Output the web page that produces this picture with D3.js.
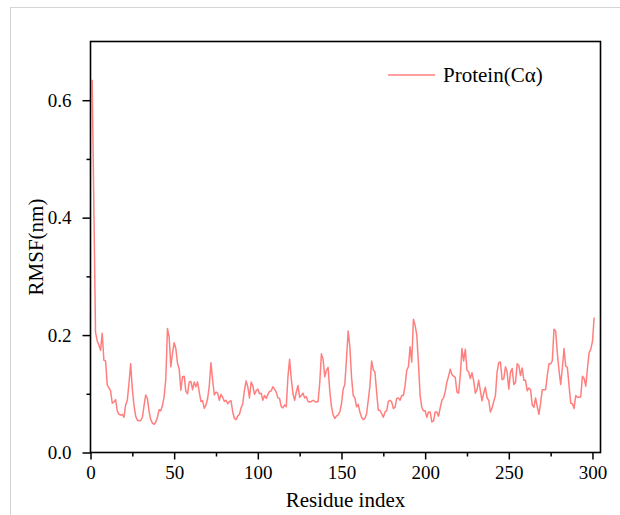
<!DOCTYPE html>
<html>
<head>
<meta charset="utf-8">
<script src="https://cdn.jsdelivr.net/npm/d3@7"></script>
<style>
  html, body { margin: 0; padding: 0; background: #fff; }
  svg { display: block; }
  text { font-family: "Liberation Serif", "Times New Roman", serif; fill: #000; }
</style>
</head>
<body>
<svg id="chart" width="620" height="515"></svg>
<script>
// RMSF values per residue (residue 1 .. 301)
const rmsf = [
  0.635, 0.420, 0.205, 0.190, 0.183, 0.174, 0.203, 0.157, 0.156, 0.115,
  0.110, 0.105, 0.084, 0.086, 0.090, 0.071, 0.065, 0.064, 0.065, 0.060,
  0.081, 0.089, 0.118, 0.151, 0.108, 0.080, 0.062, 0.055, 0.054, 0.054,
  0.060, 0.080, 0.098, 0.092, 0.070, 0.056, 0.050, 0.048, 0.052, 0.060,
  0.073, 0.071, 0.080, 0.095, 0.125, 0.211, 0.197, 0.146, 0.169, 0.187,
  0.177, 0.152, 0.142, 0.106, 0.129, 0.130, 0.104, 0.100, 0.120, 0.121,
  0.107, 0.120, 0.112, 0.120, 0.103, 0.087, 0.088, 0.075, 0.081, 0.092,
  0.114, 0.153, 0.123, 0.098, 0.103, 0.101, 0.089, 0.099, 0.094, 0.087,
  0.089, 0.083, 0.087, 0.088, 0.069, 0.058, 0.056, 0.062, 0.065, 0.076,
  0.083, 0.106, 0.122, 0.112, 0.093, 0.120, 0.114, 0.099, 0.105, 0.108,
  0.100, 0.101, 0.089, 0.097, 0.092, 0.099, 0.104, 0.105, 0.112, 0.108,
  0.103, 0.093, 0.092, 0.078, 0.076, 0.081, 0.078, 0.129, 0.159, 0.125,
  0.100, 0.089, 0.103, 0.114, 0.094, 0.097, 0.101, 0.093, 0.095, 0.087,
  0.086, 0.087, 0.089, 0.087, 0.086, 0.087, 0.118, 0.168, 0.159, 0.129,
  0.140, 0.145, 0.105, 0.078, 0.064, 0.058, 0.062, 0.064, 0.069, 0.083,
  0.108, 0.116, 0.160, 0.207, 0.180, 0.129, 0.097, 0.093, 0.078, 0.082,
  0.069, 0.060, 0.056, 0.058, 0.066, 0.089, 0.114, 0.156, 0.141, 0.137,
  0.103, 0.072, 0.072, 0.066, 0.060, 0.069, 0.071, 0.087, 0.089, 0.086,
  0.075, 0.077, 0.092, 0.093, 0.089, 0.097, 0.097, 0.114, 0.140, 0.146,
  0.180, 0.154, 0.227, 0.217, 0.200, 0.151, 0.097, 0.077, 0.071, 0.071,
  0.060, 0.069, 0.069, 0.052, 0.054, 0.069, 0.069, 0.062, 0.076, 0.089,
  0.093, 0.104, 0.120, 0.130, 0.142, 0.133, 0.130, 0.128, 0.103, 0.101,
  0.131, 0.177, 0.156, 0.176, 0.140, 0.137, 0.126, 0.136, 0.122, 0.101,
  0.107, 0.123, 0.105, 0.088, 0.101, 0.111, 0.093, 0.089, 0.069, 0.076,
  0.087, 0.097, 0.137, 0.153, 0.154, 0.124, 0.126, 0.146, 0.137, 0.108,
  0.137, 0.143, 0.116, 0.119, 0.151, 0.148, 0.131, 0.144, 0.123, 0.123,
  0.105, 0.110, 0.107, 0.081, 0.077, 0.093, 0.078, 0.065, 0.084, 0.107,
  0.107, 0.107, 0.131, 0.151, 0.151, 0.156, 0.210, 0.207, 0.169, 0.140,
  0.116, 0.144, 0.177, 0.147, 0.145, 0.114, 0.084, 0.083, 0.075, 0.097,
  0.094, 0.094, 0.095, 0.130, 0.126, 0.113, 0.143, 0.170, 0.176, 0.189,
  0.230
];
const residues = rmsf.map((_, i) => i + 1);

const xMajorTicks = [0, 50, 100, 150, 200, 250, 300];
const xMinorTicks = [25, 75, 125, 175, 225, 275];
const yMajorTicks = [0.0, 0.2, 0.4, 0.6];
const yMinorTicks = [0.1, 0.3, 0.5];
const xTitle = "Residue index";
const yTitle = "RMSF(nm)";
const seriesName = "Protein(Cα)";
const lineColor = "#ff7f7f";

(function draw() {
  const svg = d3.select("#chart");
  const pl = 90.5, pr = 600.5, pt = 41.5, pb = 452.5;

  const x = d3.scaleLinear().domain([0, 304.8]).range([pl, pr]);
  const y = d3.scaleLinear().domain([0, 0.7]).range([pb, pt]);

  // outer light border (top + left)
  svg.append("line").attr("x1", 10).attr("x2", 620).attr("y1", 7.5).attr("y2", 7.5)
    .attr("stroke", "#d4d4d4").attr("stroke-width", 1);
  svg.append("line").attr("x1", 10.5).attr("x2", 10.5).attr("y1", 7).attr("y2", 515)
    .attr("stroke", "#d4d4d4").attr("stroke-width", 1);

  // data line
  const line = d3.line().x((d, i) => x(residues[i])).y(d => y(d));
  svg.append("path").datum(rmsf)
    .attr("d", line)
    .attr("fill", "none")
    .attr("stroke", lineColor)
    .attr("stroke-width", 1.5)
    .attr("stroke-linejoin", "round");

  // frame
  svg.append("rect").attr("x", pl).attr("y", pt)
    .attr("width", pr - pl).attr("height", pb - pt)
    .attr("fill", "none").attr("stroke", "#000").attr("stroke-width", 1.6);

  // x axis
  const xAxis = d3.axisBottom(x).tickValues(xMajorTicks).tickSize(7).tickPadding(6)
    .tickFormat(d3.format("d"));
  const gx = svg.append("g").attr("transform", `translate(0,${pb})`).call(xAxis);
  gx.select(".domain").remove();
  gx.selectAll(".tick line").attr("stroke", "#000").attr("stroke-width", 1.5);
  gx.selectAll(".tick text").attr("font-size", 19).attr("font-family", "Liberation Serif");
  const gxm = svg.append("g").attr("transform", `translate(0,${pb})`)
    .call(d3.axisBottom(x).tickValues(xMinorTicks).tickSize(4).tickFormat(""));
  gxm.select(".domain").remove();
  gxm.selectAll(".tick line").attr("stroke", "#000").attr("stroke-width", 1.5);

  // y axis
  const yAxis = d3.axisLeft(y).tickValues(yMajorTicks).tickSize(8).tickPadding(11)
    .tickFormat(d3.format(".1f"));
  const gy = svg.append("g").attr("transform", `translate(${pl},0)`).call(yAxis);
  gy.select(".domain").remove();
  gy.selectAll(".tick line").attr("stroke", "#000").attr("stroke-width", 1.5);
  gy.selectAll(".tick text").attr("font-size", 19).attr("font-family", "Liberation Serif");
  const gym = svg.append("g").attr("transform", `translate(${pl},0)`)
    .call(d3.axisLeft(y).tickValues(yMinorTicks).tickSize(4).tickFormat(""));
  gym.select(".domain").remove();
  gym.selectAll(".tick line").attr("stroke", "#000").attr("stroke-width", 1.5);

  // titles
  svg.append("text").attr("x", (pl + pr) / 2).attr("y", 507)
    .attr("text-anchor", "middle").attr("font-size", 21).text(xTitle);
  svg.append("text").attr("transform", `translate(43,${(pt + pb) / 2}) rotate(-90)`)
    .attr("text-anchor", "middle").attr("font-size", 21).text(yTitle);

  // legend
  svg.append("line").attr("x1", 388).attr("x2", 435).attr("y1", 75).attr("y2", 75)
    .attr("stroke", lineColor).attr("stroke-width", 1.5);
  svg.append("text").attr("x", 443).attr("y", 82).attr("font-size", 21).text(seriesName);
})();
</script>
</body>
</html>
